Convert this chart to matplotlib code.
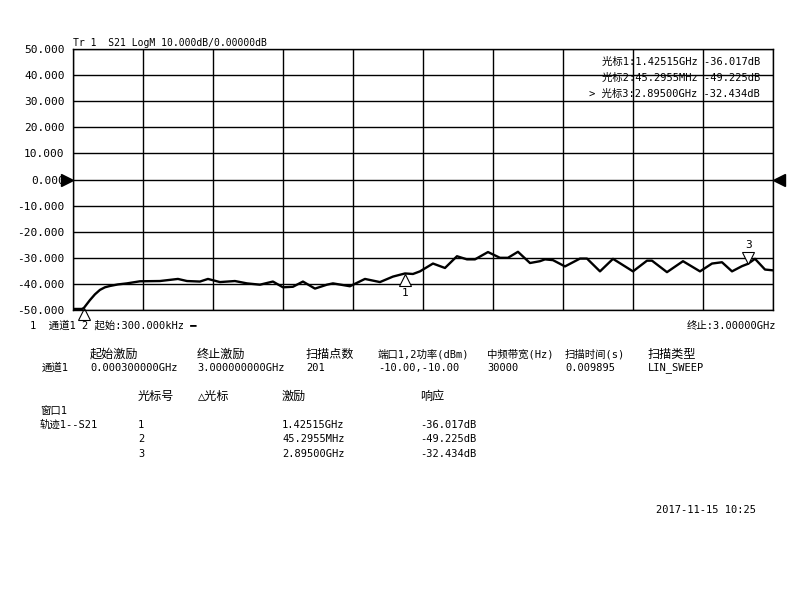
import numpy as np
import matplotlib.pyplot as plt
from matplotlib.transforms import offset_copy

plt.rcParams['font.family'] = ['DejaVu Sans Mono', 'Noto Sans CJK SC']

#-----Trace data (GHz, dB)-----

freq_ghz = [0.0003, 0.0386, 0.047, 0.0729, 0.0943, 0.1157, 0.1371, 0.1586, 0.1929, 0.2314,
            0.2871, 0.3729, 0.45, 0.4886, 0.5443, 0.5786, 0.63, 0.6943, 0.7457, 0.8014,
            0.8571, 0.9, 0.9429, 0.9857, 1.0371, 1.0886, 1.1143, 1.1871, 1.2514, 1.3157,
            1.3714, 1.4229, 1.4571, 1.4871, 1.5429, 1.5943, 1.6457, 1.6886, 1.7229, 1.7786,
            1.83, 1.8643, 1.9071, 1.9586, 2.0014, 2.0229, 2.0571, 2.1086, 2.1729, 2.2029,
            2.2586, 2.3143, 2.4, 2.46, 2.4814, 2.5457, 2.6143, 2.6871,
            2.7386, 2.7814, 2.8243, 2.8671, 2.8929, 2.9229, 2.9657, 3.0]
s21_db = [-49.6, -49.6, -49.2, -46.2, -44.0, -42.3, -41.3, -40.8, -40.2, -39.8,
          -39.0, -38.9, -38.1, -38.9, -39.1, -38.1, -39.3, -38.9, -39.8, -40.3,
          -39.1, -41.3, -41.1, -39.1, -41.8, -40.3, -39.8, -40.9, -38.1, -39.3,
          -37.2, -36.0, -36.2, -35.2, -32.2, -33.9, -29.4, -30.6, -30.6, -27.8,
          -30.0, -30.0, -27.7, -32.0, -31.3, -30.6, -30.9, -33.3, -30.3, -30.3,
          -35.2, -30.4, -35.2, -31.1, -31.1, -35.5, -31.3, -35.2,
          -32.2, -31.7, -35.2, -33.2, -32.3, -30.4, -34.5, -34.8]

y_ticks = [50, 40, 30, 20, 10, 0, -10, -20, -30, -40, -50]

#-----Marker data-----

marker_ids = ['1', '2', '3']
marker_freq = [1.42515, 0.0452955, 2.895]
marker_db = [-36.017, -49.225, -32.434]
marker_stim = ['1.42515GHz', '45.2955MHz', '2.89500GHz']
marker_resp = ['-36.017dB', '-49.225dB', '-32.434dB']
readout = ['光标1:1.42515GHz -36.017dB', '光标2:45.2955MHz -49.225dB', '> 光标3:2.89500GHz -32.434dB']

#-----Channel table-----

chan_headers = ['起始激励', '终止激励', '扫描点数', '端口1,2功率(dBm)', '中频带宽(Hz)', '扫描时间(s)', '扫描类型']
chan_values = ['0.000300000GHz', '3.000000000GHz', '201', '-10.00,-10.00', '30000', '0.009895', 'LIN_SWEEP']
chan_x = [90, 197, 306, 378, 487, 565, 648]

W, H = 800, 600
fig = plt.figure(figsize=(8, 6), dpi=100)
fig.patch.set_facecolor('white')

def ftext(x, y, s, **kw):
    # pure CJK labels get a slightly larger size, like the bitmap font on the analyser
    if 'fontsize' not in kw:
        kw['fontsize'] = 8.7 if all(ord(c) > 127 for c in s) else 7.5
    kw.setdefault('va', 'center')
    fig.text(x / W, 1 - y / H, s, **kw)

ax = fig.add_axes([73 / W, 1 - 310 / H, 700 / W, 261 / H])
ax.plot(freq_ghz, s21_db, color='black', lw=1.7, solid_joinstyle='round')
ax.set_xlim(0.0003, 3.0)
ax.set_ylim(-50, 50)
ax.set_xticks(np.linspace(0.0003, 3.0, 11))
ax.set_yticks(y_ticks)
ax.set_yticklabels([f'{v:.3f}' for v in y_ticks], fontsize=8)
ax.tick_params(axis='y', length=0, pad=6)
ax.tick_params(axis='x', length=0, labelbottom=False)
ax.grid(True, color='black', lw=1)
for sp in ax.spines.values():
    sp.set_color('black')
    sp.set_linewidth(1)

# reference level arrows
ax.plot([0], [0], marker='>', color='black', ms=8, clip_on=False,
        transform=offset_copy(ax.get_yaxis_transform(), fig, x=-4, units='points'))
ax.plot([1], [0], marker='<', color='black', ms=8, clip_on=False,
        transform=offset_copy(ax.get_yaxis_transform(), fig, x=4, units='points'))

# markers
for mid, mf, md in zip(marker_ids, marker_freq, marker_db):
    if mid == '3':
        tr = offset_copy(ax.transData, fig, y=4.5, units='points')
        ax.plot(mf, md, marker='v', ms=8.5, mfc='white', mec='black', mew=0.8, transform=tr, clip_on=False)
        ax.annotate(mid, (mf, md), xytext=(0, 14), textcoords='offset points', ha='center', va='center', fontsize=8)
    else:
        tr = offset_copy(ax.transData, fig, y=-4.5, units='points')
        ax.plot(mf, md, marker='^', ms=8.5, mfc='white', mec='black', mew=0.8, transform=tr, clip_on=False)
        if mid == '1':
            ax.annotate(mid, (mf, md), xytext=(0, -14), textcoords='offset points', ha='center', va='center', fontsize=8)

ftext(73, 43, 'Tr 1  S21 LogM 10.000dB/0.00000dB', fontsize=7)
for i, s in enumerate(readout):
    ftext(760, 62 + i * 16, s, ha='right', fontsize=7.5)

ftext(30, 325, '1  通道1 2 起始:300.000kHz ━', fontsize=7.5)
ftext(776, 325, '终止:3.00000GHz', ha='right', fontsize=7.5)

ftext(42, 368, '通道1')
for x, h, v in zip(chan_x, chan_headers, chan_values):
    ftext(x, 354, h)
    ftext(x, 368, v)

ftext(138, 396, '光标号')
ftext(198, 396, '△光标')
ftext(282, 396, '激励')
ftext(420, 396, '响应')
ftext(40, 411, '窗口1')
ftext(40, 425, '轨迹1--S21')
for i, (mid, st, rs) in enumerate(zip(marker_ids, marker_stim, marker_resp)):
    y = 425 + i * 14.5
    ftext(138, y, mid)
    ftext(282, y, st)
    ftext(420, y, rs)

ftext(656, 510, '2017-11-15 10:25', fontsize=7.5)

fig.savefig('out.png', dpi=100, facecolor='white')
